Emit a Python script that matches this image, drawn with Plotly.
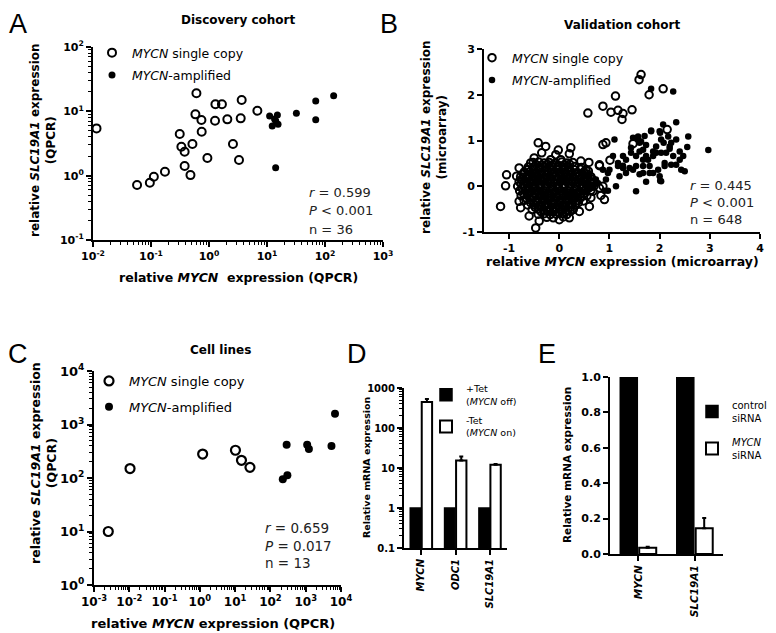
import plotly.graph_objects as go

# the page puts the figure 8 px in from the window corner, so the figure is
# drawn 8 px smaller and every reference pixel position is shifted by 8
OFF = 8
W, H = 776 - OFF, 633 - OFF
FONT = "DejaVu Sans"
LETTER_FONT = "Liberation Sans"

# ---------------- A: discovery cohort (QPCR) ----------------
a_single_x = [0.0115, 0.0575, 0.0955, 0.112, 0.174, 0.313, 0.334, 0.380, 0.380, 0.479,
              0.518, 0.607, 0.583, 0.740, 0.748, 0.938, 1.27, 1.29, 1.67, 2.07,
              2.59, 3.29, 3.52, 3.66, 6.82]
a_single_y = [5.43, 0.714, 0.776, 0.962, 1.15, 4.44, 2.82, 2.36, 1.41, 1.02,
              3.10, 19.1, 8.97, 7.33, 4.82, 1.88, 7.14, 12.9, 12.9, 7.50,
              3.10, 1.75, 7.78, 15.0, 10.2]
a_amp_x = [11.1, 15.1, 14.1, 12.3, 15.5, 13.5, 32.1, 69.2, 69.2, 141, 14.1]
a_amp_y = [8.45, 8.75, 7.14, 5.90, 6.28, 7.59, 9.31, 14.5, 7.40, 17.5, 1.33]
a_stats = ["<i>r</i> = 0.599", "<i>P</i> < 0.001", "n = 36"]

# ---------------- B: validation cohort (microarray) ----------------
b_single = [
    # outliers / edge of the cloud
    (-1.17, -0.44), (-1.07, 0.01), (-1.05, 0.25), (-0.80, 0.40), (-0.85, 0.22), (-0.47, -0.91),
    (-0.42, 0.95), (-0.27, 0.87), (-0.35, 0.73), (-0.07, 0.69), (-0.02, 0.79), (0.23, 0.84),
    (0.20, 0.71), (0.43, 0.55), (0.59, 0.52), (0.80, 0.47), (0.57, 1.60), (0.87, 1.75),
    (0.87, 0.91), (0.93, 0.95), (1.01, 0.57), (0.90, -0.29), (0.63, -0.25), (1.12, 1.97),
    (1.03, 1.62), (1.17, 1.66), (1.27, 1.59), (1.25, 1.46), (1.45, 1.67), (1.47, 0.93),
    (1.59, 2.33), (1.63, 2.44), (1.79, 2.00), (2.07, 2.13), (2.15, 1.24), (-0.80, -0.33),
    (-0.77, -0.47), (-0.60, -0.65), (-0.40, -0.76), (0.00, -0.73), (0.20, -0.69), (0.40, -0.55),
    (0.60, -0.44), (-0.57, 0.51), (-0.63, 0.36), (-0.50, 0.62), (-0.17, 0.58), (0.03, 0.58),
    (0.80, -0.04), (0.67, -0.11), (0.87, 0.00), (0.83, -0.20), (0.80, 0.45),
    # dense cloud
    (-0.52, 0.52), (-0.41, 0.53), (-0.30, 0.51), (-0.20, 0.52), (-0.08, 0.50), (0.05, 0.53), (0.15, 0.51), (0.27, 0.52),
    (-0.62, 0.42), (-0.50, 0.43), (-0.39, 0.41), (-0.27, 0.42), (-0.16, 0.43), (-0.04, 0.41), (0.08, 0.42), (0.19, 0.42),
    (0.31, 0.43), (0.44, 0.41),
    (-0.70, 0.31), (-0.58, 0.32), (-0.47, 0.30), (-0.35, 0.31), (-0.22, 0.32), (-0.11, 0.30), (0.01, 0.31), (0.12, 0.31),
    (0.24, 0.32), (0.36, 0.30), (0.49, 0.31), (0.58, 0.33),
    (-0.77, 0.21), (-0.66, 0.20), (-0.54, 0.22), (-0.43, 0.21), (-0.30, 0.20), (-0.19, 0.21), (-0.07, 0.22), (0.05, 0.20),
    (0.17, 0.21), (0.28, 0.21), (0.40, 0.22), (0.52, 0.20), (0.63, 0.21),
    (-0.80, 0.10), (-0.69, 0.11), (-0.57, 0.09), (-0.45, 0.10), (-0.34, 0.11), (-0.22, 0.10), (-0.10, 0.09), (0.02, 0.10),
    (0.13, 0.11), (0.25, 0.10), (0.37, 0.09), (0.49, 0.10), (0.61, 0.11), (0.70, 0.10),
    (-0.83, 0.00), (-0.71, 0.01), (-0.60, -0.01), (-0.48, 0.00), (-0.37, 0.01), (-0.25, 0.00), (-0.13, -0.01), (-0.02, 0.00),
    (0.10, 0.01), (0.22, 0.00), (0.34, -0.01), (0.46, 0.00), (0.57, 0.01), (0.69, 0.00),
    (-0.79, -0.10), (-0.67, -0.09), (-0.56, -0.11), (-0.44, -0.10), (-0.32, -0.09), (-0.20, -0.10), (-0.08, -0.11), (0.04, -0.10),
    (0.16, -0.09), (0.28, -0.10), (0.40, -0.11), (0.52, -0.10), (0.63, -0.09),
    (-0.76, -0.21), (-0.64, -0.20), (-0.52, -0.22), (-0.40, -0.21), (-0.29, -0.20), (-0.17, -0.21), (-0.05, -0.22), (0.07, -0.21),
    (0.19, -0.20), (0.31, -0.21), (0.43, -0.22), (0.55, -0.21),
    (-0.70, -0.31), (-0.58, -0.30), (-0.46, -0.32), (-0.34, -0.31), (-0.23, -0.30), (-0.11, -0.31), (0.01, -0.32), (0.13, -0.31),
    (0.25, -0.30), (0.37, -0.31), (0.48, -0.32),
    (-0.63, -0.41), (-0.51, -0.40), (-0.40, -0.42), (-0.28, -0.41), (-0.16, -0.40), (-0.04, -0.41), (0.08, -0.42), (0.20, -0.41),
    (0.32, -0.40),
    (-0.54, -0.51), (-0.42, -0.50), (-0.31, -0.52), (-0.19, -0.51), (-0.07, -0.50), (0.05, -0.51), (0.17, -0.52), (0.28, -0.51),
    (-0.42, -0.61), (-0.30, -0.60), (-0.18, -0.62), (-0.06, -0.61), (0.06, -0.60), (0.15, -0.62),
    (-0.25, -0.68), (-0.12, -0.69), (0.08, -0.67),
    (-0.46, 0.47), (-0.35, 0.46), (-0.24, 0.48), (-0.13, 0.47), (-0.02, 0.46), (0.10, 0.47), (0.21, 0.48),
    (-0.64, 0.36), (-0.52, 0.37), (-0.41, 0.36), (-0.29, 0.35), (-0.17, 0.36), (-0.05, 0.37), (0.07, 0.36), (0.18, 0.35),
    (0.30, 0.36), (0.42, 0.37), (0.53, 0.36),
    (-0.72, 0.26), (-0.60, 0.25), (-0.49, 0.27), (-0.37, 0.26), (-0.25, 0.25), (-0.13, 0.26), (-0.01, 0.27), (0.11, 0.26),
    (0.22, 0.25), (0.34, 0.26), (0.46, 0.27), (0.57, 0.26),
    (-0.75, 0.15), (-0.63, 0.16), (-0.51, 0.15), (-0.39, 0.14), (-0.28, 0.15), (-0.16, 0.16), (-0.04, 0.15), (0.08, 0.14),
    (0.19, 0.15), (0.31, 0.16), (0.43, 0.15), (0.55, 0.14), (0.66, 0.15),
    (-0.76, 0.05), (-0.64, 0.06), (-0.53, 0.05), (-0.41, 0.04), (-0.29, 0.05), (-0.17, 0.06), (-0.05, 0.05), (0.07, 0.04),
    (0.19, 0.05), (0.31, 0.06), (0.42, 0.05), (0.54, 0.04), (0.64, 0.05),
    (-0.74, -0.05), (-0.62, -0.06), (-0.50, -0.05), (-0.39, -0.04), (-0.27, -0.05), (-0.15, -0.06), (-0.03, -0.05), (0.09, -0.04),
    (0.21, -0.05), (0.33, -0.06), (0.45, -0.05), (0.58, -0.04),
    (-0.71, -0.16), (-0.59, -0.15), (-0.47, -0.16), (-0.35, -0.17), (-0.23, -0.16), (-0.11, -0.15), (0.01, -0.16), (0.13, -0.17),
    (0.25, -0.16), (0.37, -0.15), (0.49, -0.16),
    (-0.65, -0.26), (-0.53, -0.25), (-0.41, -0.26), (-0.29, -0.27), (-0.17, -0.26), (-0.05, -0.25), (0.07, -0.26), (0.19, -0.27),
    (0.31, -0.26), (0.43, -0.25),
    (-0.57, -0.36), (-0.45, -0.35), (-0.34, -0.36), (-0.22, -0.37), (-0.10, -0.36), (0.02, -0.35), (0.14, -0.36), (0.26, -0.37),
    (0.38, -0.36),
    (-0.48, -0.46), (-0.36, -0.45), (-0.24, -0.46), (-0.12, -0.47), (0.00, -0.46), (0.11, -0.45), (0.23, -0.46),
    (-0.36, -0.56), (-0.24, -0.55), (-0.12, -0.56), (0.00, -0.57), (0.12, -0.56), (0.22, -0.55),
]
b_amp = [
    (2.33, 1.40), (1.83, 2.13), (2.27, 2.07), (2.97, 0.79), (2.57, 1.09), (2.55, 0.86), (2.40, 0.58),
    (2.43, 0.36), (2.50, 0.33), (1.10, 1.02), (2.00, 1.20), (1.83, 1.20), (1.70, 1.10), (1.57, 1.02),
    (1.60, 0.95), (2.03, 1.02), (2.20, 0.87), (2.13, 0.73), (2.27, 0.66), (1.93, 0.73), (1.77, 0.58),
    (1.67, 0.44), (1.53, 0.44), (1.40, 0.40), (1.27, 0.40), (1.60, 0.26), (1.80, 0.29), (2.00, 0.22),
    (2.03, 0.11), (1.53, -0.11), (1.17, 0.44), (1.07, 0.66), (0.97, 0.29), (0.87, 0.36), (0.73, 0.15),
    (0.67, 0.00), (0.93, 0.15), (1.20, 0.22), (1.33, 0.58), (1.43, 0.73), (1.67, 0.80), (1.47, 1.06),
    (1.73, 0.90), (1.87, 0.66), (2.10, 0.51), (2.23, 0.47), (2.33, 0.47), (1.13, 0.00), (0.90, -0.10),
    (0.97, -0.10), (1.73, 0.10), (2.01, 0.12), (1.17, 0.51), (1.27, 0.45), (1.60, 0.76), (1.63, 0.98),
    (1.83, 1.22), (2.01, 1.17), (2.08, 0.95), (2.20, 0.82), (1.80, 0.44), (1.67, 0.29), (1.87, 0.29),
    (1.53, 0.66), (1.43, 0.84), (1.73, 0.66), (1.93, 0.87), (1.27, 0.66), (1.00, 0.36), (0.77, 0.07),
    (1.33, 0.29), (1.57, 1.09), (2.07, 1.35), (2.17, 1.09), (2.23, 0.95), (2.03, 0.73), (1.87, 0.76),
    (1.67, 0.58), (1.47, 0.36), (1.97, 0.36), (2.10, 0.44), (2.33, 1.02), (2.40, 0.76), (2.47, 0.66),
    (0.55, 0.05), (0.50, -0.12), (0.60, 0.25), (0.42, 0.12), (0.30, -0.20), (0.62, -0.05),
]
b_stats = ["<i>r</i> = 0.445", "<i>P</i> < 0.001", "n = 648"]

# ---------------- C: cell lines ----------------
c_single_x = [0.00254, 0.0105, 1.2, 10.2, 15.1, 26.3]
c_single_y = [10, 150, 280, 330, 214, 158]
c_amp_x = [224, 302, 288, 1100, 1230, 5370, 6760]
c_amp_y = [95, 112, 417, 417, 347, 398, 1585]
c_stats = ["<i>r</i> = 0.659", "<i>P</i> = 0.017", "n = 13"]

# ---------------- D: Tet-regulated MYCN ----------------
d_genes = ["MYCN", "ODC1", "SLC19A1"]
d_tet_plus = [1, 1, 1]
d_tet_minus = [447, 15.5, 12.1]
d_tet_minus_err = [85, 4, 0.5]

# ---------------- E: MYCN siRNA ----------------
e_genes = ["MYCN", "SLC19A1"]
e_control = [1.0, 1.0]
e_sirna = [0.035, 0.145]
e_sirna_err = [0.006, 0.058]


def px(x):
    return (x - OFF) / W


def py(y):
    return 1 - (y - OFF) / H


def pow_ticks(lo, hi):
    vals = [10.0 ** k for k in range(lo, hi + 1)]
    text = ["<b>10<sup>%d</sup></b>" % k for k in range(lo, hi + 1)]
    return vals, text


def bold(labels):
    return ["<b>%s</b>" % s for s in labels]


tickfont = dict(family=FONT, size=11, color="black")
axis_base = dict(showline=True, linecolor="black", linewidth=2, ticks="outside", ticklen=5,
                 tickwidth=2, tickcolor="black", showgrid=False, zeroline=False, tickfont=tickfont)
minor_log = dict(ticks="outside", ticklen=3, tickwidth=1, tickcolor="black", dtick="D1", showgrid=False)

fig = go.Figure()


def scatter_pair(xs_open, ys_open, xs_fill, ys_fill, xa, ya, leg, size, lw):
    fig.add_trace(go.Scatter(x=xs_open, y=ys_open, mode="markers", xaxis=xa, yaxis=ya,
                             name="<i>MYCN</i> single copy", legend=leg, legendgroup=leg + "s",
                             marker=dict(symbol="circle-open", size=size, color="black",
                                         line=dict(width=lw, color="black"))))
    fig.add_trace(go.Scatter(x=xs_fill, y=ys_fill, mode="markers", xaxis=xa, yaxis=ya,
                             name="<i>MYCN</i>-amplified", legend=leg, legendgroup=leg + "a",
                             marker=dict(symbol="circle", size=size - 1, color="black")))


scatter_pair(a_single_x, a_single_y, a_amp_x, a_amp_y, "x", "y", "legend", 8, 2)
scatter_pair([p[0] for p in b_single], [p[1] for p in b_single],
             [p[0] for p in b_amp], [p[1] for p in b_amp], "x2", "y2", "legend2", 7.5, 2)
scatter_pair(c_single_x, c_single_y, c_amp_x, c_amp_y, "x3", "y3", "legend3", 9, 2.2)

# D bars
fig.add_trace(go.Bar(x=d_genes, y=d_tet_plus, xaxis="x4", yaxis="y4", legend="legend4",
                     legendgroup="d1", name="+Tet<br>(<i>MYCN</i> off)",
                     marker=dict(color="black", line=dict(color="black", width=1.5))))
fig.add_trace(go.Bar(x=d_genes, y=d_tet_minus, xaxis="x4", yaxis="y4", legend="legend4",
                     legendgroup="d2", name="-Tet<br>(<i>MYCN</i> on)",
                     marker=dict(color="white", line=dict(color="black", width=2)),
                     error_y=dict(type="data", array=d_tet_minus_err, symmetric=False,
                                  arrayminus=[0] * 3, color="black", thickness=2, width=2)))
# E bars
fig.add_trace(go.Bar(x=e_genes, y=e_control, xaxis="x5", yaxis="y5", legend="legend5",
                     legendgroup="e1", name="control<br>siRNA",
                     marker=dict(color="black", line=dict(color="black", width=1.5))))
fig.add_trace(go.Bar(x=e_genes, y=e_sirna, xaxis="x5", yaxis="y5", legend="legend5",
                     legendgroup="e2", name="<i>MYCN</i><br>siRNA",
                     marker=dict(color="white", line=dict(color="black", width=2)),
                     error_y=dict(type="data", array=e_sirna_err, symmetric=False,
                                  arrayminus=[0] * 2, color="black", thickness=2, width=2)))

ax_vals, ax_text = pow_ticks(-2, 3)
ay_vals, ay_text = pow_ticks(-1, 2)
cx_vals, cx_text = pow_ticks(-3, 4)
cy_vals, cy_text = pow_ticks(0, 4)

layout = dict(
    width=W, height=H, autosize=False, margin=dict(l=0, r=0, t=0, b=0, autoexpand=False),
    paper_bgcolor="white", plot_bgcolor="white",
    font=dict(family=FONT, color="black"),
    bargap=0.33, bargroupgap=0.1,
    xaxis=dict(axis_base, domain=[px(93), px(383)], anchor="y", type="log", range=[-2, 3],
               tickvals=ax_vals, ticktext=ax_text, minor=minor_log),
    yaxis=dict(axis_base, domain=[py(240), py(47)], anchor="x", type="log", range=[-1, 2],
               tickvals=ay_vals, ticktext=ay_text, minor=minor_log),
    xaxis2=dict(axis_base, domain=[px(484), px(760)], anchor="y2", range=[-1.5, 4],
                tickvals=[-1, 0, 1, 2, 3, 4], ticktext=bold(["-1", "0", "1", "2", "3", "4"])),
    yaxis2=dict(axis_base, domain=[py(232), py(49)], anchor="x2", range=[-1, 3],
                tickvals=[-1, 0, 1, 2, 3], ticktext=bold(["-1", "0", "1", "2", "3"])),
    xaxis3=dict(axis_base, domain=[px(94), px(341)], anchor="y3", type="log", range=[-3, 4],
                tickvals=cx_vals, ticktext=cx_text, minor=minor_log,
                tickfont=dict(tickfont, size=12)),
    yaxis3=dict(axis_base, domain=[py(585), py(371)], anchor="x3", type="log", range=[0, 4],
                tickvals=cy_vals, ticktext=cy_text, minor=minor_log,
                tickfont=dict(tickfont, size=13)),
    xaxis4=dict(axis_base, domain=[px(404), px(507)], anchor="y4", tickangle=-90,
                tickvals=d_genes, ticktext=["<b><i>%s</i></b>" % g for g in d_genes],
                tickfont=dict(tickfont, size=10)),
    yaxis4=dict(axis_base, domain=[py(548), py(388)], anchor="x4", type="log", range=[-1, 3],
                tickvals=[0.1, 1, 10, 100, 1000], ticktext=bold(["0.1", "1", "10", "100", "1000"]),
                minor=minor_log, tickfont=dict(tickfont, size=10)),
    xaxis5=dict(axis_base, domain=[px(610), px(723)], anchor="y5", tickangle=-90,
                tickvals=e_genes, ticktext=["<b><i>%s</i></b>" % g for g in e_genes],
                tickfont=dict(tickfont, size=10.5)),
    yaxis5=dict(axis_base, domain=[py(554), py(377)], anchor="x5", range=[0, 1.0],
                tickvals=[0, 0.2, 0.4, 0.6, 0.8, 1.0],
                ticktext=bold(["0.0", "0.2", "0.4", "0.6", "0.8", "1.0"]),
                tickfont=dict(tickfont, size=11)),
)

leg_common = dict(xanchor="left", yanchor="top", bgcolor="rgba(0,0,0,0)", itemwidth=30,
                  tracegroupgap=3, itemsizing="trace")
layout["legend"] = dict(leg_common, x=px(92), y=py(38), font=dict(family=FONT, size=12.5))
layout["legend2"] = dict(leg_common, x=px(472), y=py(43), font=dict(family=FONT, size=12.5))
layout["legend3"] = dict(leg_common, x=px(89), y=py(366), font=dict(family=FONT, size=13),
                         tracegroupgap=6)
layout["legend4"] = dict(leg_common, x=px(426), y=py(376), font=dict(family=FONT, size=9.5),
                         tracegroupgap=4)
layout["legend5"] = dict(leg_common, x=px(692), y=py(392), font=dict(family=FONT, size=10),
                         tracegroupgap=8)

fig.update_layout(**layout)

ann = []


def text(x, y, s, size=12, bold=False, angle=0, xanchor="center", color="black", family=FONT):
    ann.append(dict(x=px(x), y=py(y), xref="paper", yref="paper", text=s, showarrow=False,
                    xanchor=xanchor, yanchor="middle", textangle=angle,
                    font=dict(family=family, size=size, color=color,
                              weight="bold" if bold else "normal")))


# panel letters (A, B and C sit at the page edge, kept just inside the drawing)
for lab, lx, ly in [("A", 18, 24), ("B", 389, 24), ("C", 18, 354), ("D", 357, 354), ("E", 547, 354)]:
    text(lx, ly, lab, size=27, family=LETTER_FONT)

# titles
text(238, 20, "Discovery cohort", 12, True)
text(622, 25, "Validation cohort", 12, True)
text(220, 350, "Cell lines", 12, True)

# axis titles
text(238, 278, "relative <i>MYCN</i>  expression (QPCR)", 12.5, True)
text(43, 140, "relative <i>SLC19A1</i> expression<br>(QPCR)", 12, True, -90)
text(622, 261, "relative <i>MYCN</i> expression (microarray)", 12.5, True)
text(434, 137, "relative <i>SLC19A1</i> expression<br>(microarray)", 12, True, -90)
text(213, 623, "relative <i>MYCN</i> expression (QPCR)", 13, True)
text(43, 463, "relative <i>SLC19A1</i> expression<br>(QPCR)", 12.5, True, -90)
text(366, 467, "Relative mRNA expression", 9.5, True, -90)
text(567, 465, "Relative mRNA expression", 10.5, True, -90)

# statistics
for i, s in enumerate(a_stats):
    text(307, 192 + 18.5 * i, s, 13, xanchor="left", color="#222")
for i, s in enumerate(b_stats):
    text(688, 185 + 17.5 * i, s, 13, xanchor="left", color="#222")
for i, s in enumerate(c_stats):
    text(263, 528 + 17.5 * i, s, 13.5, xanchor="left", color="#222")

fig.update_layout(annotations=ann)
fig.write_html("out.html")
